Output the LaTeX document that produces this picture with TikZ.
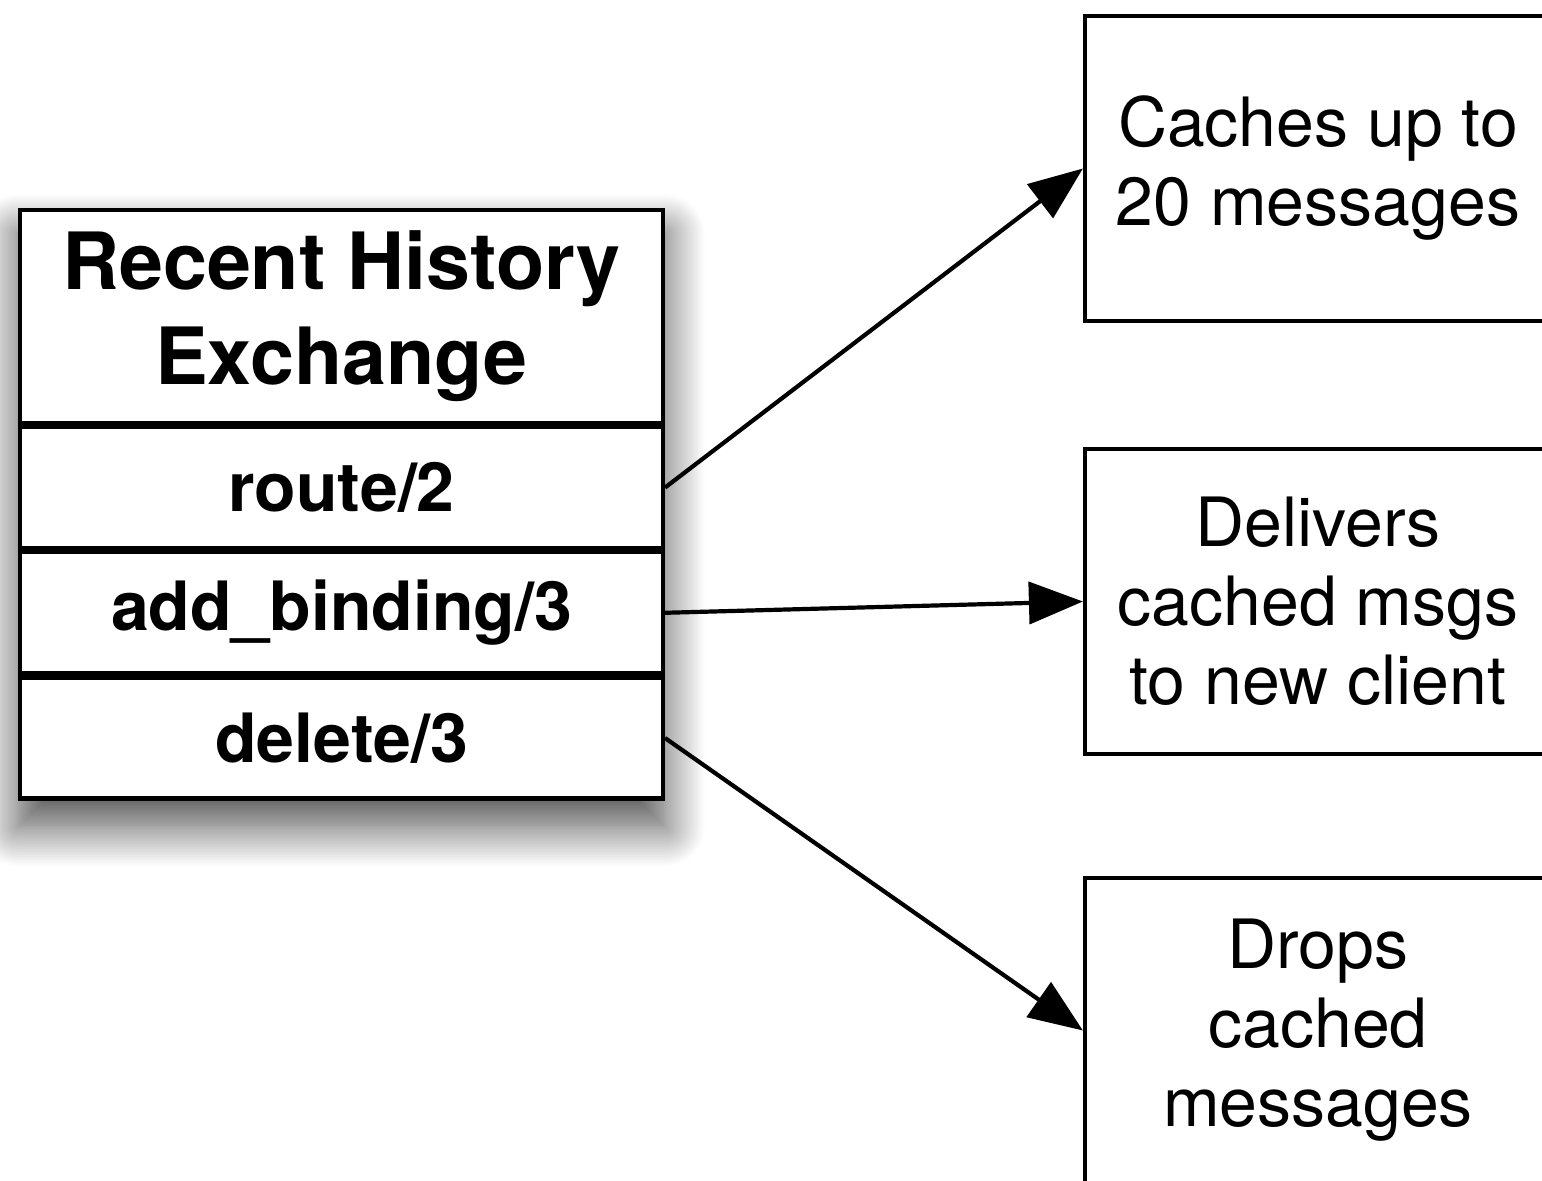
\documentclass[tikz,border=0pt]{standalone}
\usepackage{fontspec}
\setmainfont{TeX Gyre Heros}
\usetikzlibrary{arrows.meta,positioning,shadows.blur,backgrounds,fit}
\tikzset{
  basic/.style = {draw, line width=2.1pt, rectangle, align=center, inner sep=0pt, fill=white},
  head/.style  = {basic, minimum width=321.4pt, minimum height=106.4pt,
                  font=\fontsize{39.5}{47.5}\selectfont\bfseries},
  func/.style  = {basic, minimum width=321.4pt, minimum height=60.5pt,
                  font=\fontsize{34}{40}\selectfont\bfseries},
  note/.style  = {basic, minimum width=233pt, minimum height=152.4pt,
                  font=\fontsize{34}{39.5}\selectfont},
  link/.style  = {line width=2.1pt, -{Triangle[length=27pt,width=21pt]}}
}

\begin{document}
\begin{tikzpicture}
\useasboundingbox (0,0) rectangle (771pt,-590.5pt);
\clip (0,0) rectangle (771pt,-590.5pt);
\node[head, anchor=north west] (exch) at (9pt,-104pt) {Recent History\\Exchange};
\node[func, below=0pt of exch] (route) {route/2};
\node[func, below=0pt of route] (bind) {add\_binding/3};
\node[func, below=0pt of bind] (del) {delete/3};
\begin{scope}[on background layer]
\node[fit=(exch)(del), inner sep=0pt, fill=white,
      blur shadow={shadow xshift=0pt, shadow yshift=-13pt, shadow blur radius=20pt,
                   shadow blur steps=25, shadow opacity=70}] (frame) {};
\end{scope}
\node[note] (cache) at (659pt,-84.25pt) {Caches up to\\20 messages};
\node[note, below=62pt of cache] (deliver) {Delivers\\cached msgs\\to new client};
\node[note, below=60pt of deliver] (drop) {Drops\\cached\\messages};
\draw[link] (route.east) -- (cache.west);
\draw[link] (bind.east) -- (deliver.west);
\draw[link] (del.east) -- (drop.west);
\end{tikzpicture}
\end{document}
